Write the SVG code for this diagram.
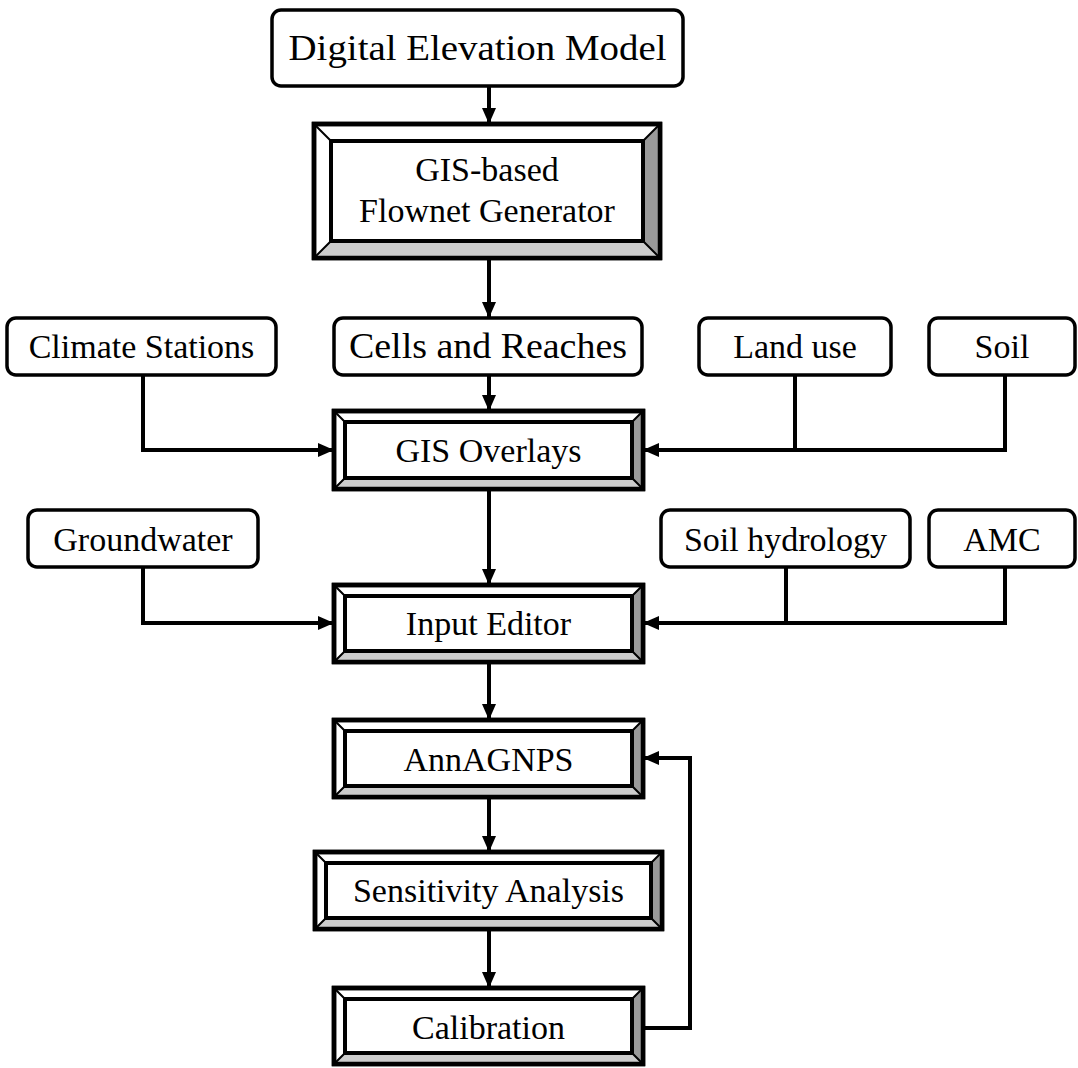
<svg xmlns="http://www.w3.org/2000/svg" width="1078" height="1068" viewBox="0 0 1078 1068">
  <style>
    text { font-family: "Liberation Serif", "Times New Roman", serif; font-size: 34px; fill: #000; text-anchor: middle; }
    .big { font-size: 36px; }
    .rbox { fill: #fff; stroke: #000; stroke-width: 3.5; }
    .outer { fill: #fff; stroke: #000; stroke-width: 4.5; }
    .inner { fill: #fff; stroke: #000; stroke-width: 4; }
    .dark { fill: #999; }
    .light { fill: #ccc; }
    .diag { stroke: #000; stroke-width: 2; fill: none; }
    .conn { fill: none; stroke: #000; stroke-width: 4; }
  </style>
  <defs>
    <marker id="arrow" markerUnits="userSpaceOnUse" markerWidth="16" markerHeight="14" refX="16" refY="7" orient="auto">
      <path d="M0,0 L16,7 L0,14 Z" fill="#000"/>
    </marker>
  </defs>

  <rect width="1078" height="1068" fill="#fff"/>

  <!-- connectors -->
  <g id="connectors">
    <line class="conn" x1="489" y1="86" x2="489" y2="124" marker-end="url(#arrow)"/>
    <line class="conn" x1="489" y1="258" x2="489" y2="318" marker-end="url(#arrow)"/>
    <line class="conn" x1="489" y1="375" x2="489" y2="411" marker-end="url(#arrow)"/>
    <polyline class="conn" points="143,375 143,450 334,450" marker-end="url(#arrow)"/>
    <polyline class="conn" points="795,375 795,450"/>
    <polyline class="conn" points="1005,375 1005,450 643,450" marker-end="url(#arrow)"/>
    <line class="conn" x1="489" y1="489" x2="489" y2="585" marker-end="url(#arrow)"/>
    <polyline class="conn" points="143,567 143,623 334,623" marker-end="url(#arrow)"/>
    <polyline class="conn" points="786,567 786,623"/>
    <polyline class="conn" points="1005,567 1005,623 643,623" marker-end="url(#arrow)"/>
    <line class="conn" x1="489" y1="662" x2="489" y2="720" marker-end="url(#arrow)"/>
    <line class="conn" x1="489" y1="797" x2="489" y2="852" marker-end="url(#arrow)"/>
    <line class="conn" x1="489" y1="929" x2="489" y2="988" marker-end="url(#arrow)"/>
    <polyline class="conn" points="643,1028 690,1028 690,758 643,758" marker-end="url(#arrow)"/>
  </g>

  <!-- input boxes (rounded) -->
  <g id="dem">
    <rect class="rbox" x="272" y="10" width="411" height="76" rx="9"/>
    <text class="big" x="477.5" y="60" textLength="378" lengthAdjust="spacingAndGlyphs">Digital Elevation Model</text>
  </g>
  <g id="climate">
    <rect class="rbox" x="7" y="318" width="269" height="57" rx="9"/>
    <text x="141.5" y="358">Climate Stations</text>
  </g>
  <g id="cells">
    <rect class="rbox" x="334" y="318" width="308" height="57" rx="9"/>
    <text class="big" x="488" y="358" textLength="278" lengthAdjust="spacingAndGlyphs">Cells and Reaches</text>
  </g>
  <g id="landuse">
    <rect class="rbox" x="699" y="318" width="192" height="57" rx="9"/>
    <text x="795" y="358">Land use</text>
  </g>
  <g id="soil">
    <rect class="rbox" x="929" y="318" width="146" height="57" rx="9"/>
    <text x="1002" y="358">Soil</text>
  </g>
  <g id="groundwater">
    <rect class="rbox" x="28" y="510" width="230" height="57" rx="9"/>
    <text x="143" y="551">Groundwater</text>
  </g>
  <g id="soilhydrology">
    <rect class="rbox" x="661" y="510" width="249" height="57" rx="9"/>
    <text x="785.5" y="551">Soil hydrology</text>
  </g>
  <g id="amc">
    <rect class="rbox" x="929" y="510" width="146" height="57" rx="9"/>
    <text x="1002" y="551">AMC</text>
  </g>

  <!-- bevelled process boxes -->
  <g id="flownet">
    <rect class="outer" x="314" y="124" width="346" height="134"/>
    <polygon class="dark" points="660,124 660,258 643,241 643,141"/>
    <polygon class="light" points="314,258 331,241 643,241 660,258"/>
    <path class="diag" d="M314,124 L331,141 M660,124 L643,141 M314,258 L331,241 M660,258 L643,241"/>
    <rect class="inner" x="331" y="141" width="312" height="100"/>
    <rect x="314" y="124" width="346" height="134" fill="none" stroke="#000" stroke-width="4.5"/>
    <text x="487" y="181">GIS-based</text>
    <text x="487" y="222">Flownet Generator</text>
  </g>

  <g id="overlays">
    <rect class="outer" x="334" y="411" width="309" height="78"/>
    <polygon class="dark" points="643,411 643,489 632,478 632,422"/>
    <polygon class="light" points="334,489 345,478 632,478 643,489"/>
    <path class="diag" d="M334,411 L345,422 M643,411 L632,422 M334,489 L345,478 M643,489 L632,478"/>
    <rect class="inner" x="345" y="422" width="287" height="56"/>
    <rect x="334" y="411" width="309" height="78" fill="none" stroke="#000" stroke-width="4.5"/>
    <text x="488.5" y="462">GIS Overlays</text>
  </g>

  <g id="inputeditor">
    <rect class="outer" x="334" y="585" width="309" height="77"/>
    <polygon class="dark" points="643,585 643,662 632,651 632,596"/>
    <polygon class="light" points="334,662 345,651 632,651 643,662"/>
    <path class="diag" d="M334,585 L345,596 M643,585 L632,596 M334,662 L345,651 M643,662 L632,651"/>
    <rect class="inner" x="345" y="596" width="287" height="55"/>
    <rect x="334" y="585" width="309" height="77" fill="none" stroke="#000" stroke-width="4.5"/>
    <text x="488.5" y="635">Input Editor</text>
  </g>

  <g id="annagnps">
    <rect class="outer" x="334" y="720" width="309" height="77"/>
    <polygon class="dark" points="643,720 643,797 632,786 632,731"/>
    <polygon class="light" points="334,797 345,786 632,786 643,797"/>
    <path class="diag" d="M334,720 L345,731 M643,720 L632,731 M334,797 L345,786 M643,797 L632,786"/>
    <rect class="inner" x="345" y="731" width="287" height="55"/>
    <rect x="334" y="720" width="309" height="77" fill="none" stroke="#000" stroke-width="4.5"/>
    <text x="488.5" y="771">AnnAGNPS</text>
  </g>

  <g id="sensitivity">
    <rect class="outer" x="315" y="852" width="347" height="77"/>
    <polygon class="dark" points="662,852 662,929 651,918 651,863"/>
    <polygon class="light" points="315,929 326,918 651,918 662,929"/>
    <path class="diag" d="M315,852 L326,863 M662,852 L651,863 M315,929 L326,918 M662,929 L651,918"/>
    <rect class="inner" x="326" y="863" width="325" height="55"/>
    <rect x="315" y="852" width="347" height="77" fill="none" stroke="#000" stroke-width="4.5"/>
    <text x="488.5" y="902">Sensitivity Analysis</text>
  </g>

  <g id="calibration">
    <rect class="outer" x="334" y="988" width="309" height="76"/>
    <polygon class="dark" points="643,988 643,1064 632,1053 632,999"/>
    <polygon class="light" points="334,1064 345,1053 632,1053 643,1064"/>
    <path class="diag" d="M334,988 L345,999 M643,988 L632,999 M334,1064 L345,1053 M643,1064 L632,1053"/>
    <rect class="inner" x="345" y="999" width="287" height="54"/>
    <rect x="334" y="988" width="309" height="76" fill="none" stroke="#000" stroke-width="4.5"/>
    <text x="488.5" y="1039">Calibration</text>
  </g>
</svg>
